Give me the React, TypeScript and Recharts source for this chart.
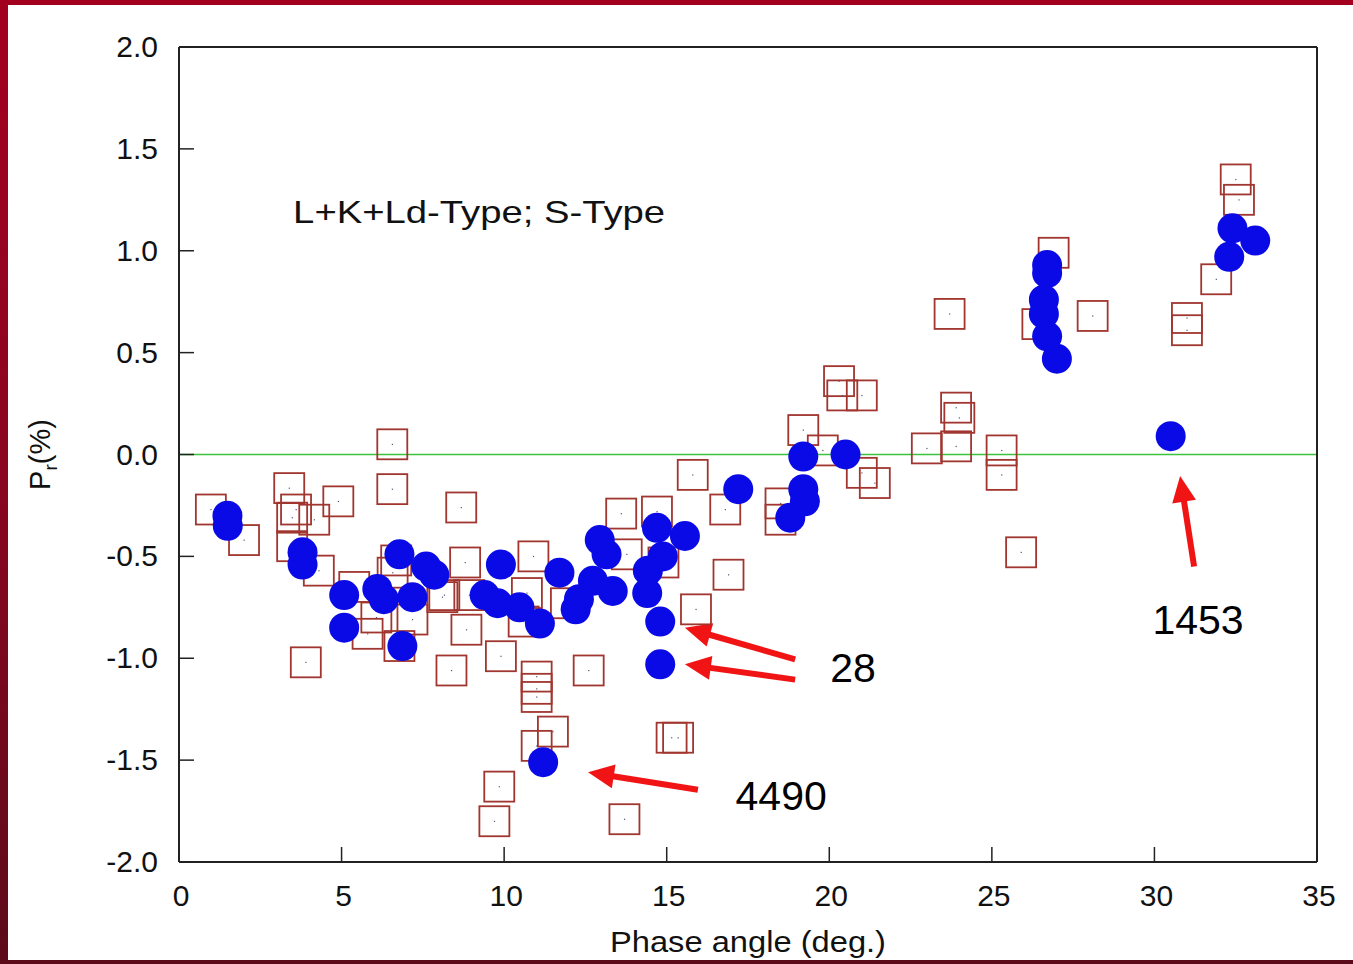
import { ScatterChart, Scatter, XAxis, YAxis, ReferenceLine, ReferenceDot } from 'recharts';

const FONT = "'Liberation Sans', Arial, Helvetica, sans-serif";

const xTicks = [0, 5, 10, 15, 20, 25, 30, 35];
const yTicks = [-2, -1.5, -1, -0.5, 0, 0.5, 1, 1.5, 2];

// open squares (L+K+Ld types)
const squareX = [
  0.98, 2.0, 3.39, 3.6, 3.48, 4.16, 4.9, 6.56, 6.56, 3.48, 4.3, 5.39, 6.07, 5.8, 6.68, 6.57, 7.18, 6.78, 3.9,
  8.38, 8.68, 8.1, 8.8, 10.9, 13.6, 14.7, 13.77, 14.9, 8.16, 8.93, 8.84, 9.9, 10.7, 10.6, 11.9, 12.6, 11.0,
  11.0, 11.0, 11.5, 11.0, 9.85, 9.7, 13.7, 15.15, 15.35, 15.9, 16.9, 16.8, 15.8, 20.3, 20.4, 21.0, 19.2, 19.8,
  21.0, 21.4, 18.5, 18.5, 23.0, 23.9, 23.9, 24.0, 23.7, 26.9, 26.4, 28.1, 25.3, 25.3, 25.9, 31.0, 31.0, 31.9,
  32.5, 32.6,
];
const squareY = [
  -0.27, -0.42, -0.165, -0.27, -0.31, -0.32, -0.23, -0.17, 0.05, -0.45, -0.57, -0.65, -0.8, -0.88, -0.52, -0.58,
  -0.81, -0.94, -1.02, -1.06, -0.26, -0.7, -0.53, -0.5, -0.29, -0.28, -0.49, -0.53, -0.69, -0.69, -0.86, -0.99,
  -0.68, -0.82, -0.73, -1.06, -1.09, -1.15, -1.19, -1.36, -1.43, -1.63, -1.8, -1.79, -1.39, -1.39, -0.76, -0.59,
  -0.27, -0.1, 0.36, 0.29, 0.29, 0.12, 0.02, -0.09, -0.14, -0.24, -0.32, 0.03, 0.04, 0.23, 0.18, 0.69, 0.99,
  0.64, 0.68, 0.02, -0.1, -0.48, 0.67, 0.61, 0.86, 1.35, 1.25,
];

// filled circles (S type)
const circleX = [
  1.49, 1.5, 3.8, 3.8, 5.08, 5.08, 6.78, 6.1, 6.3, 7.18, 6.87, 7.6, 7.85, 9.9, 9.4, 9.8, 10.47, 11.1, 11.7,
  12.2, 12.3, 12.73, 12.94, 13.15, 13.34, 14.7, 15.56, 14.88, 14.42, 14.4, 14.8, 14.8, 11.2, 17.2, 19.2, 20.5,
  19.2, 19.25, 18.8, 26.7, 26.7, 26.6, 26.6, 26.7, 27.0, 30.5, 32.4, 33.1, 32.3,
];
const circleY = [
  -0.3, -0.35, -0.48, -0.54, -0.69, -0.85, -0.49, -0.66, -0.71, -0.7, -0.94, -0.55, -0.59, -0.54, -0.69, -0.73,
  -0.75, -0.83, -0.58, -0.76, -0.71, -0.62, -0.42, -0.49, -0.67, -0.36, -0.4, -0.5, -0.57, -0.68, -0.82, -1.03,
  -1.51, -0.17, -0.01, 0.0, -0.17, -0.23, -0.31, 0.93, 0.89, 0.76, 0.69, 0.58, 0.47, 0.09, 1.11, 1.05, 0.97,
];

// red annotation arrows (tail -> tip) and their labels
const arrowTailX = [18.95, 18.95, 15.96, 31.22];
const arrowTailY = [-1.005, -1.105, -1.645, -0.55];
const arrowTipX = [15.56, 15.56, 12.58, 30.79];
const arrowTipY = [-0.85, -1.03, -1.56, -0.105];

const noteText = ['28', '4490', '1453'];
const noteX = [20.73, 18.52, 31.34];
const noteY = [-1.117, -1.745, -0.881];

const title = 'L+K+Ld-Type; S-Type';
const titleX = 3.51;
const titleY = 1.135;

const squares = squareX.map((x, i) => ({ x, y: squareY[i] }));
const circles = circleX.map((x, i) => ({ x, y: circleY[i] }));

const Square = (p: any) => (
  <g>
    <rect x={p.cx - 15} y={p.cy - 15} width={30} height={30} fill="none" stroke="#a0362f" strokeWidth={1.8} />
    <rect x={p.cx - 0.5} y={p.cy - 0.5} width={1.2} height={1.2} fill="#557" />
  </g>
);

const Dot = (p: any) => <circle cx={p.cx} cy={p.cy} r={15} fill="#0a0ae6" />;

const LeftTick = (p: any) => (
  <g>
    <line x1={p.x} y1={p.y} x2={p.x + 15} y2={p.y} stroke="#222" strokeWidth={1.5} />
    <text x={p.x - 21} y={p.y + 10} textAnchor="end" fontSize={30} fontFamily={FONT} fill="#111">
      {Number(p.payload.value).toFixed(1)}
    </text>
  </g>
);

const BottomTick = (p: any) => (
  <g>
    <line x1={p.x} y1={p.y} x2={p.x} y2={p.y - 15} stroke="#222" strokeWidth={1.5} />
    <text x={p.x + 2} y={p.y + 44} textAnchor="middle" fontSize={30} fontFamily={FONT} fill="#111">
      {p.payload.value}
    </text>
  </g>
);

const TopTick = (p: any) => <line x1={p.x} y1={p.y} x2={p.x} y2={p.y + 15} stroke="#222" strokeWidth={1.5} />;
const RightTick = (p: any) => <line x1={p.x} y1={p.y} x2={p.x - 15} y2={p.y} stroke="#222" strokeWidth={1.5} />;

const Arrow = (p: any) => {
  const { x1, y1, x2, y2 } = p;
  const dx = x2 - x1;
  const dy = y2 - y1;
  const len = Math.sqrt(dx * dx + dy * dy) || 1;
  const ux = dx / len;
  const uy = dy / len;
  const L = 26;
  const w = 12;
  const bx = x2 - ux * L;
  const by = y2 - uy * L;
  return (
    <g>
      <line x1={x1} y1={y1} x2={bx + ux * 4} y2={by + uy * 4} stroke="#f01414" strokeWidth={6} />
      <polygon
        points={`${x2},${y2} ${bx - uy * w},${by + ux * w} ${bx + uy * w},${by - ux * w}`}
        fill="#f01414"
      />
    </g>
  );
};

const YLabel = (p: any) => {
  const cx = 50;
  const cy = p.viewBox.y + p.viewBox.height / 2;
  return (
    <text
      x={cx}
      y={cy}
      transform={`rotate(-90, ${cx}, ${cy})`}
      textAnchor="middle"
      fontSize={29}
      fontFamily={FONT}
      fill="#111"
    >
      P
      <tspan fontSize={19} dy={7}>r</tspan>
      <tspan dy={-7}>(%)</tspan>
    </text>
  );
};

const XLabel = (p: any) => (
  <text
    x={p.viewBox.x + p.viewBox.width / 2 - 138}
    y={p.viewBox.y + 90}
    fontSize={29}
    fontFamily={FONT}
    fill="#111"
    textLength={276}
    lengthAdjust="spacingAndGlyphs"
  >
    Phase angle (deg.)
  </text>
);

export default function App() {
  return (
    <div
      style={{
        position: 'absolute',
        left: 0,
        top: 0,
        width: 1353,
        height: 964,
        background: 'linear-gradient(180deg, #a3001f 0%, #8a0620 50%, #5c0b1a 100%)',
      }}
    >
      <div style={{ position: 'absolute', left: 8, top: 5, right: 0, bottom: 4, background: '#fff' }} />
      <div style={{ position: 'absolute', left: 0, top: 0 }}>
        <ScatterChart width={1353} height={964} margin={{ top: 45, right: 30, bottom: 42, left: 0 }}>
          <XAxis
            dataKey="x"
            type="number"
            domain={[0, 35]}
            ticks={xTicks}
            interval={0}
            height={60}
            tickSize={0}
            tickMargin={0}
            tickLine={false}
            tick={BottomTick}
            axisLine={{ stroke: '#222', strokeWidth: 2 }}
            label={{ content: XLabel }}
          />
          <XAxis
            xAxisId="top"
            orientation="top"
            type="number"
            domain={[0, 35]}
            ticks={xTicks}
            interval={0}
            height={2}
            tickSize={0}
            tickMargin={0}
            tickLine={false}
            tick={TopTick}
            axisLine={{ stroke: '#222', strokeWidth: 2 }}
          />
          <YAxis
            dataKey="y"
            type="number"
            domain={[-2, 2]}
            ticks={yTicks}
            interval={0}
            width={179}
            tickSize={0}
            tickMargin={0}
            tickLine={false}
            tick={LeftTick}
            axisLine={{ stroke: '#222', strokeWidth: 2 }}
            label={{ content: YLabel }}
          />
          <YAxis
            yAxisId="right"
            orientation="right"
            type="number"
            domain={[-2, 2]}
            ticks={yTicks}
            interval={0}
            width={6}
            tickSize={0}
            tickMargin={0}
            tickLine={false}
            tick={RightTick}
            axisLine={{ stroke: '#222', strokeWidth: 2 }}
          />
          <ReferenceLine y={0} stroke="#3cc33c" strokeWidth={1.5} />
          <Scatter data={squares} shape={Square} isAnimationActive={false} />
          <Scatter data={circles} shape={Dot} isAnimationActive={false} />
          <ReferenceDot
            x={titleX}
            y={titleY}
            r={0}
            shape={(p: any) => (
              <text x={p.cx} y={p.cy} fontSize={32} fontFamily={FONT} fill="#111" textLength={372} lengthAdjust="spacingAndGlyphs">
                {title}
              </text>
            )}
          />
          {arrowTailX.map((tx, i) => (
            <ReferenceLine
              key={'a' + i}
              segment={[
                { x: tx, y: arrowTailY[i] },
                { x: arrowTipX[i], y: arrowTipY[i] },
              ]}
              shape={Arrow}
            />
          ))}
          {noteText.map((t, i) => (
            <ReferenceDot
              key={'n' + i}
              x={noteX[i]}
              y={noteY[i]}
              r={0}
              shape={(p: any) => (
                <text x={p.cx} y={p.cy} textAnchor="middle" fontSize={41} fontFamily={FONT} fill="#000">
                  {t}
                </text>
              )}
            />
          ))}
        </ScatterChart>
      </div>
    </div>
  );
}
